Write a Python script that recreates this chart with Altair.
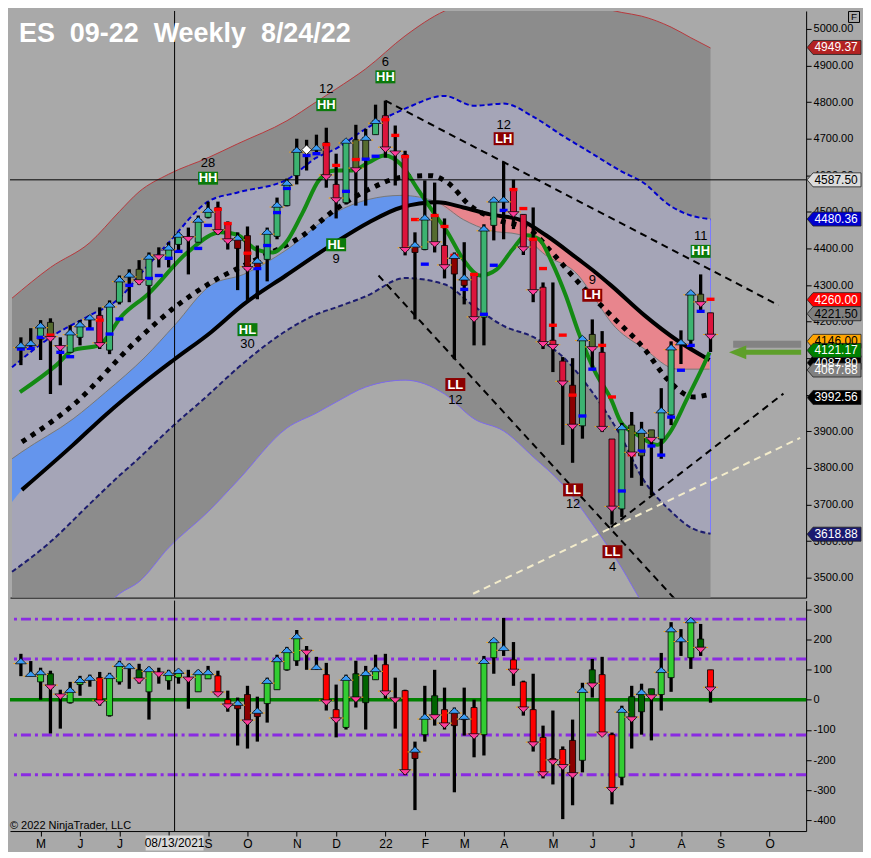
import altair as alt
import pandas as pd

FONT = "Liberation Sans"
W, H1, H2 = 798, 588, 231
XDOM = [-0.6, 79.2]
YDOM_P = [3445.5, 5049.1]
YDOM_O = [-435.5, 328.4]

TITLE = "ES\u00a0\u00a009-22\u00a0\u00a0Weekly\u00a0\u00a08/24/22"

# ---------------- weekly bars (index 0 = week of 19 Apr 2021, 70 = week of 22 Aug 2022)
OPEN = [4128, 4138, 4152, 4198, 4130, 4116, 4157, 4205, 4217, 4122,
        4253, 4322, 4343, 4299, 4380, 4375, 4411, 4433, 4417, 4485,
        4512, 4468, 4400, 4435, 4346, 4370, 4433, 4517, 4599, 4667,
        4668, 4689, 4575, 4525, 4697, 4643, 4711, 4763, 4672, 4656,
        4389, 4397, 4490, 4408, 4330, 4299, 4329, 4212, 4463, 4528,
        4561, 4493, 4422, 4294, 4149, 4092, 4026, 3915, 4165, 4116,
        3879, 3688, 3917, 3833, 3904, 3879, 3945, 4135, 4149, 4275,
        4224]
HIGH = [4157, 4182, 4204, 4209, 4157, 4190, 4204, 4217, 4239, 4258,
        4326, 4343, 4368, 4389, 4403, 4417, 4444, 4457, 4490, 4528,
        4528, 4474, 4444, 4460, 4408, 4457, 4539, 4591, 4700, 4697,
        4711, 4730, 4659, 4697, 4738, 4727, 4793, 4804, 4736, 4667,
        4444, 4586, 4580, 4482, 4389, 4417, 4332, 4466, 4539, 4637,
        4588, 4493, 4512, 4307, 4307, 4103, 4100, 4157, 4206, 4174,
        3879, 3923, 3953, 3926, 3904, 4018, 4146, 4176, 4283, 4329,
        4224]
LOW = [4081, 4125, 4095, 4002, 4026, 4116, 4135, 4179, 4125, 4111,
       4247, 4253, 4300, 4206, 4348, 4348, 4389, 4329, 4417, 4482,
       4438, 4397, 4286, 4258, 4261, 4310, 4425, 4515, 4575, 4613,
       4656, 4566, 4482, 4520, 4517, 4517, 4711, 4648, 4572, 4381,
       4206, 4395, 4389, 4318, 4097, 4247, 4135, 4135, 4422, 4425,
       4453, 4382, 4253, 4125, 4062, 3863, 3814, 3880, 4067, 3898,
       3645, 3666, 3773, 3751, 3726, 3825, 3917, 4084, 4125, 4225,
       4117]
CLOSE = [4136, 4142, 4190, 4152, 4127, 4171, 4193, 4212, 4135, 4247,
         4316, 4329, 4307, 4378, 4375, 4403, 4438, 4425, 4479, 4506,
         4444, 4419, 4430, 4343, 4367, 4446, 4520, 4580, 4670, 4670,
         4676, 4594, 4531, 4695, 4613, 4703, 4749, 4670, 4659, 4395,
         4411, 4485, 4411, 4348, 4380, 4321, 4206, 4455, 4534, 4534,
         4493, 4397, 4280, 4138, 4130, 4030, 3912, 4155, 4124, 3906,
         3688, 3912, 3836, 3902, 3876, 3958, 4130, 4144, 4280, 4247,
         4158]
# body style: U strong up, u weak, D strong down, d weak down, n no body
KIND = list("nnUunUUnDU" "UnuUnUUnUU" "DDdddUUUUn" "nDDUuuUDnD"
            "dUuDddDUUn" "DDDDDDdUuD" "DUuuuUUnUu" "D")
DIAMOND = [29]

# ---------------- oscillator bars
OSC_OPEN = [120, 80, 59, 86, 15, -10, 50, 65, 73, -53,
            59, 105, 99, 26, 90, 63, 73, 75, 26, 69,
            79, 0, -30, 17, -56, -13, 33, 99, 129, 165,
            100, 83, -33, -92, 86, -10, 66, 116, 5, 30,
            -195, -116, 13, -33, -86, -66, -26, -116, 139, 165,
            132, 59, -33, -125, -195, -165, -135, -201, 99, 83,
            -116, -257, 10, -40, 36, 17, 73, 190, 139, 201,
            99]
OSC_HIGH = [152, 128, 106, 96, 33, 59, 79, 83, 92, 89,
            129, 119, 119, 109, 106, 99, 99, 99, 99, 112,
            96, 30, 7, 46, 10, 73, 149, 175, 231, 178,
            142, 122, 50, 83, 129, 112, 149, 152, 73, 33,
            -139, 46, 99, 40, -26, 40, 0, 145, 198, 271,
            191, 63, 86, -86, -36, -155, -66, 56, 135, 142,
            -109, -20, 46, 53, 36, 155, 257, 234, 271, 251,
            99]
OSC_LOW = [78, 78, 0, -112, -96, -13, 13, 43, -20, -56,
           50, 36, 53, -66, 53, 33, 53, -30, 26, 69,
           13, -40, -152, -162, -139, -76, 33, 96, 112, 99,
           99, -36, -125, -99, -26, -99, 66, 3, -96, -250,
           -366, -139, -86, -99, -307, -119, -191, -185, 86, 145,
           46, -53, -172, -261, -281, -396, -350, -241, 7, -119,
           -347, -284, -162, -116, -135, -36, 26, 145, 102, 145,
           -10]
OSC_CLOSE = [128, 86, 92, 40, 10, 33, 66, 73, -10, 79,
             119, 112, 63, 102, 83, 89, 96, 66, 92, 92,
             17, -23, -10, -76, -36, 63, 135, 165, 211, 155,
             109, -10, -69, 73, 0, 89, 102, 20, -3, -241,
             -165, -56, -59, -86, -36, -56, -122, 129, 198, 172,
             92, -33, -149, -248, -208, -224, -251, 33, 46, -116,
             -300, -33, -66, 26, 7, 99, 234, 201, 264, 165,
             33]
OSC_LEVELS = [267, 135, -117, -249]

# ---------------- bands
BAND_X = [-0.9, 3, 7, 10, 12, 15, 19, 22, 27, 30, 32, 35, 39, 43, 46, 49, 52, 55, 58, 61, 63, 66, 68, 70]
OUTER_UP = [4264, 4348, 4416, 4501, 4555, 4603, 4648, 4686, 4749, 4801, 4836, 4891, 4981, 5049,
            5075, 5080, 5078, 5075, 5062, 5045, 5035, 5005, 4976, 4948]
OUTER_LO = [3300, 3300, 3380, 3456, 3489, 3582, 3680, 3765, 3909, 3950, 3980, 4021, 4040, 4002,
            3934, 3901, 3830, 3754, 3647, 3526, 3434, 3325, 3260, 3200]
INNER_UP = [4075, 4157, 4217, 4264, 4326, 4416, 4528, 4553, 4588, 4648, 4673, 4727, 4782, 4817,
            4790, 4796, 4760, 4708, 4659, 4610, 4583, 4515, 4490, 4480]
INNER_LO = [3516, 3598, 3702, 3779, 3827, 3904, 3999, 4073, 4176, 4220, 4239, 4269, 4319, 4302,
            4242, 4188, 4158, 4104, 4007, 3882, 3776, 3681, 3637, 3620]

CLOUD_X = [-0.9, 0.1, 5.3, 8.6, 12.6, 15.6, 19.3, 22.6, 26.9, 31.9, 35.3, 38.6, 42.3,
           44.9, 47.6, 50.6, 53.3, 56.6, 58.3, 59.9, 63.3, 66.6, 69.9]
SLOW = [3707, 3740, 3863, 3945, 4035, 4097, 4171, 4247, 4326, 4416, 4471, 4512, 4526,
        4512, 4493, 4479, 4436, 4370, 4335, 4299, 4217, 4149, 4095]
FAST = [3825, 3844, 3934, 4007, 4103, 4190, 4300, 4329, 4395, 4498, 4534, 4545, 4526,
        4479, 4449, 4438, 4381, 4326, 4261, 4198, 4125, 4070, 4070]
CROSS_AT = 42.3

DOT_X = [0.1, 5.3, 11.9, 15.9, 19.3, 23.9, 28.6, 31.9, 35.3, 38.6, 41.6, 43.3, 45.6, 48.3,
         51.6, 53.9, 56.6, 59.9, 63.3, 65.6, 68.3, 69.6]
DOT_Y = [3871, 3972, 4152, 4245, 4307, 4370, 4435, 4506, 4561, 4594, 4599, 4580, 4517, 4479,
         4452, 4389, 4307, 4217, 4125, 4043, 3994, 3999]

GREEN_X = [-0.1, 3.6, 5.3, 7.9, 10.3, 12.9, 16.9, 20.3, 21.9, 23.9, 25.6, 26.9, 28.6, 30.3,
           31.9, 33.6, 35.3, 36.9, 38.6, 40.3, 41.9, 43.3, 44.9, 46.6, 48.3, 49.9, 51.3, 52.6,
           53.9, 55.3, 56.6, 58.3, 59.9, 60.9, 62.6, 64.6, 65.9, 67.6, 69.3, 69.9]
GREEN_Y = [4007, 4081, 4122, 4135, 4217, 4275, 4389, 4444, 4438, 4397, 4389, 4416, 4498, 4588,
           4613, 4613, 4635, 4654, 4629, 4561, 4498, 4444, 4370, 4326, 4343, 4397, 4436, 4425,
           4362, 4272, 4171, 4062, 3988, 3925, 3890, 3863, 3898, 3988, 4081, 4116]

# ---------------- stop markers
BLUE_X = [0, 1, 2, 4, 5, 7, 9, 10, 11, 13, 14, 15, 16, 18, 19, 24, 25, 26, 27, 29, 30, 33, 35, 36,
          41, 45, 47, 48, 49, 57, 58, 61, 63, 64, 65, 66, 67, 68, 69]
BLUE_Y = [4125, 4127, 4157, 4116, 4104, 4180, 4166, 4207, 4299, 4318, 4326, 4373, 4392, 4400, 4463,
          4345, 4408, 4498, 4564, 4654, 4659, 4556, 4644, 4652, 4357, 4288, 4220, 4354, 4504,
          3942, 4070, 3737, 3846, 3860, 3835, 3939, 4067, 4135, 4228]
RED_X = [3, 8, 20, 21, 23, 31, 32, 34, 37, 38, 39, 40, 42, 43, 44, 46, 50, 51, 52, 53, 54, 55, 56,
         59, 60, 62, 70]
RED_Y = [4163, 4204, 4507, 4468, 4387, 4684, 4627, 4643, 4752, 4709, 4651, 4479, 4490, 4460, 4381,
         4329, 4561, 4509, 4425, 4345, 4190, 4163, 3999, 4135, 3994, 3836, 4261]

# ---------------- trend lines
TR_X1 = [37.0, 36.3, 59.9, 45.9]
TR_Y1 = [4804, 4326, 3638, 3456]
TR_X2 = [76.9, 66.5, 77.4, 79.1]
TR_Y2 = [4245, 3438, 4003, 3882]
TR_COL = ["#000000", "#000000", "#000000", "#f3eccb"]

# ---------------- swing labels
SW_X = [19.0, 31.0, 37.0, 32.0, 23.0, 49.0, 58.0, 69.0, 44.1, 56.05, 60.05]
SW_TAG = ["HH", "HH", "HH", "HL", "HL", "LH", "LH", "HH", "LL", "LL", "LL"]
SW_TAG_Y = [4592, 4793, 4869, 4410, 4178, 4700, 4272, 4392, 4028, 3740, 3571]
SW_NUM = ["28", "12", "6", "9", "30", "12", "9", "11", "12", "12", "4"]
SW_NUM_Y = [4633, 4835, 4909, 4370, 4138, 4738, 4313, 4433, 3987, 3702, 3530]

# ---------------- price markers on the axis
TAG_P = [4949.37, 4587.50, 4480.36, 4260.00, 4221.50, 4146.00, 4087.80, 4121.17, 4067.68, 3992.56, 3618.88]
TAG_BG = ["#b22222", "#dcdcdc", "#0000cd", "#ff0000", "#808080", "#ffa500", "#000000", "#008000",
          "#808080", "#000000", "#191970"]
TAG_FG = ["white", "black", "white", "white", "black", "black", "white", "white", "white", "white", "white"]

CROSS_I = 15.6
CROSS_P = 4587.5
ARROW_P = 4116

TICK_I = [2, 6, 10, 15, 19, 23, 28, 32, 37, 41, 45, 49, 54, 58, 62, 67, 71, 76]
TICK_L = ["M", "J", "J", "", "S", "O", "N", "D", "22", "F", "M", "A", "M", "J", "J", "A", "S", "O"]
HIDDEN_PRICE_LABELS = [4000, 4100]

# ================= tables
IDX = list(range(len(OPEN)))
P_COL = {"U": "#3cb371", "u": "#556b2f", "D": "#dc143c", "d": "#8b0000", "n": "#000000"}
O_COL = {"U": "#32cd32", "u": "#006400", "D": "#ff0000", "d": "#8b0000", "n": "#000000"}

bars = pd.DataFrame({"i": IDX, "o": OPEN, "h": HIGH, "l": LOW, "c": CLOSE, "k": KIND})
bars["col"] = [P_COL[k] for k in KIND]
bars["mk"] = ["dia" if i in DIAMOND else ("up" if c >= o else "dn") for i, o, c in zip(IDX, OPEN, CLOSE)]

osc = pd.DataFrame({"i": IDX, "o": OSC_OPEN, "h": OSC_HIGH, "l": OSC_LOW, "c": OSC_CLOSE, "k": KIND})
osc["col"] = [O_COL[k] for k in KIND]
osc["mk"] = ["up" if c >= o else "dn" for o, c in zip(OSC_OPEN, OSC_CLOSE)]

band = pd.DataFrame({"i": BAND_X, "ou": OUTER_UP, "ol": OUTER_LO, "iu": INNER_UP, "il": INNER_LO})
cloud = pd.DataFrame({"i": CLOUD_X, "slow": SLOW, "fast": FAST})
dots = pd.DataFrame({"i": DOT_X, "p": DOT_Y})
green = pd.DataFrame({"i": GREEN_X, "p": GREEN_Y})
blue_d = pd.DataFrame({"i": BLUE_X, "p": BLUE_Y})
red_d = pd.DataFrame({"i": RED_X, "p": RED_Y})
trend = pd.DataFrame({"x1": TR_X1, "y1": TR_Y1, "x2": TR_X2, "y2": TR_Y2, "col": TR_COL})
swing = pd.DataFrame({"i": SW_X, "tag": SW_TAG, "ty": SW_TAG_Y, "num": SW_NUM, "ny": SW_NUM_Y})
swing["bg"] = ["#0b7a0b" if t.startswith("H") else "#8b0000" for t in SW_TAG]
tags = pd.DataFrame({"p": TAG_P, "bg": TAG_BG, "fg": TAG_FG})
tags["lbl"] = [f"{v:.2f}" for v in TAG_P]

# ================= scales / axes
xs = alt.Scale(domain=XDOM, nice=False, zero=False)
ysp = alt.Scale(domain=YDOM_P, nice=False, zero=False)
yso = alt.Scale(domain=YDOM_O, nice=False, zero=False)

label_expr = " : ".join(f"datum.value == {v} ? '{l}'" for v, l in zip(TICK_I, TICK_L)) + " : ''"
price_expr = " || ".join(f"datum.value == {v}" for v in HIDDEN_PRICE_LABELS) + " ? '' : format(datum.value, '.2f')"

ax_xt = alt.Axis(title=None, labels=False, ticks=False, domain=True, domainColor="black",
                 domainWidth=1, grid=False, orient="bottom")
ax_xb = alt.Axis(title=None, values=TICK_I, labelExpr=label_expr, tickSize=5, tickColor="black",
                 domainColor="black", labelColor="black", labelFont=FONT, labelFontSize=12,
                 grid=False, labelPadding=2, orient="bottom", labelFlush=False, labelOverlap=False)
ax_p = alt.Axis(title=None, orient="right", values=list(range(3500, 5001, 100)), labelExpr=price_expr,
                tickSize=5, tickColor="black", domainColor="black", labelColor="black",
                labelFont=FONT, labelFontSize=11, grid=False, labelPadding=2, labelOverlap=False,
                labelFlush=False)
ax_o = alt.Axis(title=None, orient="right", values=list(range(-400, 301, 100)),
                labelExpr="'' + datum.value", tickSize=5, tickColor="black", domainColor="black",
                labelColor="black", labelFont=FONT, labelFontSize=11, grid=False, labelPadding=2,
                labelOverlap=False, labelFlush=False)


def XP(f="i"):
    return alt.X(f"{f}:Q", scale=xs, axis=ax_xt)


def YP(f):
    return alt.Y(f"{f}:Q", scale=ysp, axis=ax_p)


def XO(f="i"):
    return alt.X(f"{f}:Q", scale=xs, axis=ax_xb)


def YO(f):
    return alt.Y(f"{f}:Q", scale=yso, axis=ax_o)


UP_TRI = "M0,-0.5L1,0.5L-1,0.5Z"
DN_TRI = "M0,0.5L1,-0.5L-1,-0.5Z"
UP_TICKS = "M-1.35,0.45H-1.05M1.05,0.45H1.35"
DN_TICKS = "M-1.35,-0.45H-1.05M1.05,-0.45H1.35"
DASH = "M-1,-0.42H1V0.42H-1Z"
BOX = "M-1,-0.65H1V0.65H-1Z"
TAG = "M-1,0L-0.78,-0.26H1V0.26H-0.78Z"
DATEBOX = "M-1,-0.26H1V0.26H-1Z"
HEAD = "M-1,0L1,-0.8L1,0.8Z"
UP_FILL, DN_FILL = "#3a9cf5", "#ff3d9a"


def arrow_layers(df, X, Y):
    out = []
    for mk, tri, tk, fill in (("up", UP_TRI, UP_TICKS, UP_FILL), ("dn", DN_TRI, DN_TICKS, DN_FILL)):
        out.append(alt.Chart(df).transform_filter(f"datum.mk == '{mk}'")
                   .mark_point(shape=tk, size=121, filled=False, color="#ffa500", strokeWidth=1, opacity=1)
                   .encode(x=X(), y=Y("c")))
        out.append(alt.Chart(df).transform_filter(f"datum.mk == '{mk}'")
                   .mark_point(shape=tri, size=121, filled=True, fill=fill, stroke="black",
                               strokeWidth=0.7, opacity=1).encode(x=X(), y=Y("c")))
    return out


# ================= top panel
L = []
L.append(alt.Chart(band).mark_area(color="#8c8c8c", clip=True, interpolate="monotone")
         .encode(x=XP(), y=YP("ou"), y2="ol"))
L.append(alt.Chart(band).mark_line(color="#b8383c", strokeWidth=1, clip=True, interpolate="monotone")
         .encode(x=XP(), y=YP("ou")))
L.append(alt.Chart(band).mark_line(color="#7b68ee", strokeWidth=1, clip=True, interpolate="monotone")
         .encode(x=XP(), y=YP("ol")))
L.append(alt.Chart(band).mark_area(color="#a5a5b7", clip=True, interpolate="monotone")
         .encode(x=XP(), y=YP("iu"), y2="il"))
L.append(alt.Chart(band).transform_filter("datum.i >= 69").mark_rule(color="#7a7aff", strokeWidth=1)
         .encode(x=XP(), y=YP("iu"), y2="il"))
L.append(alt.Chart(cloud).transform_filter(f"datum.i <= {CROSS_AT}")
         .mark_area(color="#6495ed", clip=True, interpolate="monotone")
         .encode(x=XP(), y=YP("fast"), y2="slow"))
L.append(alt.Chart(cloud).transform_filter(f"datum.i >= {CROSS_AT}")
         .mark_area(color="#e8858d", clip=True, interpolate="monotone")
         .encode(x=XP(), y=YP("fast"), y2="slow"))
L.append(alt.Chart(cloud).mark_line(color="#777777", strokeWidth=1, clip=True, interpolate="monotone")
         .encode(x=XP(), y=YP("fast")))
L.append(alt.Chart(band).mark_line(color="#0000cd", strokeWidth=2, strokeDash=[5, 3], clip=True,
                                   interpolate="monotone").encode(x=XP(), y=YP("iu")))
L.append(alt.Chart(band).mark_line(color="#1c1c6e", strokeWidth=2, strokeDash=[5, 3], clip=True,
                                   interpolate="monotone").encode(x=XP(), y=YP("il")))
L.append(alt.Chart(cloud).transform_filter("datum.i >= 0")
         .mark_line(color="black", strokeWidth=4, clip=True, interpolate="monotone")
         .encode(x=XP(), y=YP("slow")))
L.append(alt.Chart(dots).mark_line(color="black", strokeWidth=5, strokeDash=[5, 6], clip=True,
                                   interpolate="monotone").encode(x=XP(), y=YP("p")))
L.append(alt.Chart(green).mark_line(color="#138a13", strokeWidth=4, clip=True, interpolate="monotone")
         .encode(x=XP(), y=YP("p")))
L.append(alt.Chart(trend).mark_rule(strokeWidth=2, strokeDash=[7, 5], clip=True)
         .encode(x=XP("x1"), y=YP("y1"), x2="x2", y2="y2", color=alt.Color("col:N", scale=None)))
L.append(alt.Chart(pd.DataFrame({"p": [CROSS_P]})).mark_rule(color="black", strokeWidth=1)
         .encode(y=YP("p")))
L.append(alt.Chart(pd.DataFrame({"i": [CROSS_I]})).mark_rule(color="black", strokeWidth=1)
         .encode(x=XP()))
# bars
L.append(alt.Chart(bars).mark_rule(color="black", strokeWidth=3.3).encode(x=XP(), y=YP("l"), y2="h"))
L.append(alt.Chart(bars).transform_filter("datum.k != 'n'")
         .mark_bar(size=6, stroke="black", strokeWidth=0.8)
         .encode(x=XP(), y=YP("o"), y2="c", color=alt.Color("col:N", scale=None)))
L.append(alt.Chart(blue_d).mark_point(shape=DASH, size=64, filled=True, color="#0000ff", opacity=1)
         .encode(x=XP(), y=YP("p")))
L.append(alt.Chart(red_d).mark_point(shape=DASH, size=64, filled=True, color="#ff0000", opacity=1)
         .encode(x=XP(), y=YP("p")))
L.extend(arrow_layers(bars, XP, YP))
L.append(alt.Chart(bars).transform_filter("datum.mk == 'dia'")
         .mark_point(shape="diamond", size=90, filled=True, fill="white", stroke="black",
                     strokeWidth=0.7, opacity=1).encode(x=XP(), y=YP("c")))
# swing labels
L.append(alt.Chart(swing).mark_point(shape=BOX, size=400, filled=True, opacity=1)
         .encode(x=XP(), y=YP("ty"), color=alt.Color("bg:N", scale=None)))
L.append(alt.Chart(swing).mark_text(font=FONT, fontSize=13, fontWeight="bold", color="white")
         .encode(x=XP(), y=YP("ty"), text="tag:N"))
L.append(alt.Chart(swing).mark_text(font=FONT, fontSize=13, color="black")
         .encode(x=XP(), y=YP("ny"), text="num:N"))
# annotation arrow
L.append(alt.Chart(pd.DataFrame({"x1": [72.3], "x2": [79.2], "p": [ARROW_P + 22]}))
         .mark_rule(color="#555555", strokeWidth=7, opacity=0.45).encode(x=XP("x1"), x2="x2", y=YP("p")))
L.append(alt.Chart(pd.DataFrame({"x1": [73.4], "x2": [79.2], "p": [ARROW_P]}))
         .mark_rule(color="#5e9f2a", strokeWidth=5).encode(x=XP("x1"), x2="x2", y=YP("p")))
L.append(alt.Chart(pd.DataFrame({"i": [72.75], "p": [ARROW_P]}))
         .mark_point(shape=HEAD, size=300, filled=True, color="#5e9f2a", opacity=1)
         .encode(x=XP(), y=YP("p")))
# title
L.append(alt.Chart(pd.DataFrame({"t": [TITLE]}))
         .mark_text(font=FONT, fontSize=27, fontWeight="bold", color="white", align="left",
                    baseline="alphabetic")
         .encode(x=alt.value(9), y=alt.value(31), text="t:N"))
# price markers
L.append(alt.Chart(tags).mark_point(shape=TAG, size=2916, filled=True, opacity=1, stroke="#222222",
                                    strokeWidth=0.8)
         .encode(x=alt.value(W + 28), y=YP("p"), color=alt.Color("bg:N", scale=None)))
L.append(alt.Chart(tags).mark_text(font=FONT, fontSize=12)
         .encode(x=alt.value(W + 30), y=YP("p"), text="lbl:N", color=alt.Color("fg:N", scale=None)))
L.append(alt.Chart(pd.DataFrame({"t": ["F"]}))
         .mark_point(shape="square", size=121, filled=False, color="black", strokeWidth=1, opacity=1)
         .encode(x=alt.value(W + 48), y=alt.value(6)))
L.append(alt.Chart(pd.DataFrame({"t": ["F"]}))
         .mark_text(font=FONT, fontSize=10, color="black")
         .encode(x=alt.value(W + 48), y=alt.value(6), text="t:N"))

top = alt.layer(*L).properties(width=W, height=H1)

# ================= bottom panel
B = []
B.append(alt.Chart(pd.DataFrame({"v": OSC_LEVELS}))
         .mark_rule(color="#8a2be2", strokeWidth=3, strokeDash=[10, 4, 3, 4]).encode(y=YO("v")))
B.append(alt.Chart(pd.DataFrame({"v": [0]})).mark_rule(color="#008000", strokeWidth=3.5)
         .encode(y=YO("v")))
B.append(alt.Chart(pd.DataFrame({"i": [CROSS_I]})).mark_rule(color="black", strokeWidth=1)
         .encode(x=XO()))
B.append(alt.Chart(osc).mark_rule(color="black", strokeWidth=3.3).encode(x=XO(), y=YO("l"), y2="h"))
B.append(alt.Chart(osc).transform_filter("datum.k != 'n'")
         .mark_bar(size=6, stroke="black", strokeWidth=0.8)
         .encode(x=XO(), y=YO("o"), y2="c", color=alt.Color("col:N", scale=None)))
B.extend(arrow_layers(osc, XO, YO))
B.append(alt.Chart(pd.DataFrame({"t": ["\u00a9 2022 NinjaTrader, LLC"]}))
         .mark_text(font=FONT, fontSize=11, color="black", align="left", baseline="alphabetic")
         .encode(x=alt.value(0), y=alt.value(H2 - 2), text="t:N"))
B.append(alt.Chart(pd.DataFrame({"i": [CROSS_I]}))
         .mark_point(shape=DATEBOX, size=3364, filled=True, color="#d9d9d9", opacity=1)
         .encode(x=XO(), y=alt.value(H2 + 12)))
B.append(alt.Chart(pd.DataFrame({"i": [CROSS_I], "t": ["08/13/2021"]}))
         .mark_text(font=FONT, fontSize=12, color="black")
         .encode(x=XO(), y=alt.value(H2 + 12), text="t:N"))

bottom = alt.layer(*B).properties(width=W, height=H2)

chart = (alt.vconcat(top, bottom, spacing=1)
         .properties(background="#a9a9a9", padding=0)
         .configure_view(stroke=None))

chart.save("out.html", embed_options={"renderer": "svg", "actions": False})
